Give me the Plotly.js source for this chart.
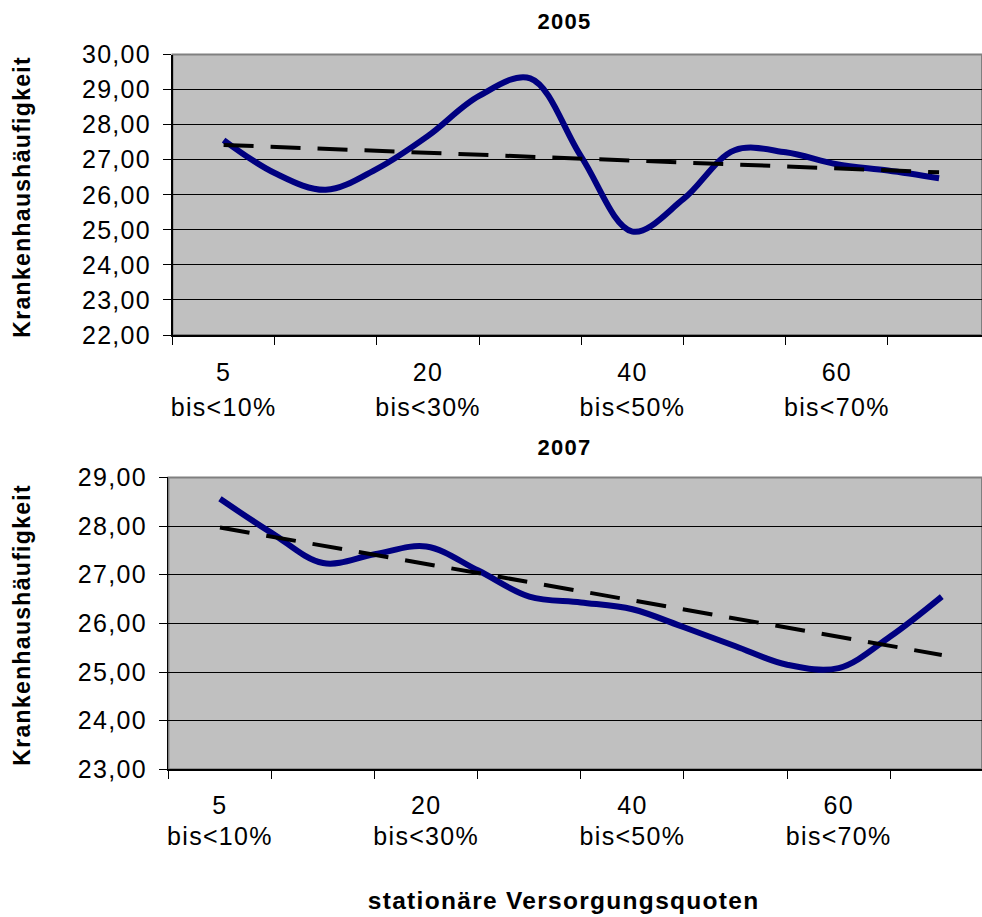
<!DOCTYPE html>
<html>
<head>
<meta charset="utf-8">
<script src="https://cdn.plot.ly/plotly-3.0.1.min.js"></script>
<style>
  html, body { margin: 0; padding: 0; background: #ffffff; overflow: hidden; }
  #chart text { letter-spacing: 1.3px; }
</style>
</head>
<body>
<div id="chart"></div>
<script>
// Krankenhaushäufigkeit nach stationärer Versorgungsquote, 2005 und 2007

// Position of each Versorgungsquoten-Klasse along the category axis
const klasse = [0, 1, 2, 3, 4, 5, 6, 7, 8, 9, 10, 11, 12, 13, 14];

// Krankenhaushäufigkeit per class
const haeufigkeit2005 = [27.56, 26.62, 26.14, 26.74, 27.68, 28.82, 29.32, 27.08,
                         24.95, 25.88, 27.27, 27.21, 26.87, 26.69, 26.47];
const haeufigkeit2007 = [28.56, 27.86, 27.24, 27.42, 27.58, 27.09, 26.55, 26.43,
                         26.29, 25.92, 25.53, 25.15, 25.08, 25.73, 26.55];

// Linear trend lines: value at the first and at the last class
const trendKlasse = [0, 14];
const trend2005 = [27.42, 26.64];
const trend2007 = [27.97, 25.35];

// Labelled classes (every fourth one carries a label)
const tickKlasse = [0, 4, 8, 12];
const tickUntergrenze = ['5', '20', '40', '60'];
const tickObergrenze = ['bis<10%', 'bis<30%', 'bis<50%', 'bis<70%'];

const FONT = '"Liberation Sans", Arial, Helvetica, sans-serif';
const W = 982, H = 917;

// plot-area pixel boxes -> paper domains
function xDom(left) { return [left / W, 1]; }
function yDom(top, bottom) { return [(H - bottom) / H, (H - top) / H]; }

const serieStyle = { color: '#000080', width: 6, shape: 'spline', smoothing: 1 };
const trendStyle = { color: '#000000', width: 4, dash: '30px,17px' };

const traces = [
  { x: klasse, y: haeufigkeit2005, xaxis: 'x', yaxis: 'y', mode: 'lines', line: serieStyle },
  { x: trendKlasse, y: trend2005, xaxis: 'x', yaxis: 'y', mode: 'lines', line: trendStyle },
  { x: klasse, y: haeufigkeit2007, xaxis: 'x2', yaxis: 'y2', mode: 'lines', line: serieStyle },
  { x: trendKlasse, y: trend2007, xaxis: 'x2', yaxis: 'y2', mode: 'lines', line: trendStyle },
  // empty traces so the overlaid label axes get drawn
  { x: [null], y: [null], xaxis: 'x3', yaxis: 'y', mode: 'lines', hoverinfo: 'skip' },
  { x: [null], y: [null], xaxis: 'x4', yaxis: 'y2', mode: 'lines', hoverinfo: 'skip' }
];

const TICKFONT = { family: FONT, size: 25, color: '#000000' };

function yAxis(dom, range, anchor) {
  return {
    domain: dom, range: range, anchor: anchor,
    tickmode: 'linear', tick0: 0, dtick: 1, tickformat: '.2f',
    showgrid: true, gridcolor: '#000000', gridwidth: 1,
    showline: true, linecolor: '#000000', linewidth: 1.5,
    ticks: 'outside', ticklen: 8, tickwidth: 1, tickcolor: '#000000',
    ticklabelstandoff: 7,
    tickfont: TICKFONT,
    zeroline: false, fixedrange: true, automargin: false
  };
}

function xAxis(dom, range, anchor, standoff) {
  return {
    domain: dom, range: range, anchor: anchor,
    tickmode: 'array', tickvals: tickKlasse, ticktext: tickUntergrenze,
    ticks: '', ticklabelstandoff: standoff,
    tickfont: TICKFONT,
    showgrid: false, zeroline: false,
    showline: true, linecolor: '#000000', linewidth: 1.5,
    minor: {
      tickmode: 'array', tickvals: [-1, 1, 3, 5, 7, 9, 11, 13],
      ticks: 'outside', ticklen: 8, tickwidth: 1, tickcolor: '#000000', showgrid: false
    },
    fixedrange: true, automargin: false
  };
}

// second label row (upper class bound) on an overlaid axis
function xAxisRow2(over, range, anchor, standoff) {
  return {
    overlaying: over, anchor: anchor, side: 'bottom', range: range,
    tickmode: 'array', tickvals: tickKlasse, ticktext: tickObergrenze,
    ticks: '', ticklabelstandoff: standoff,
    tickfont: TICKFONT,
    showgrid: false, zeroline: false, showline: false,
    fixedrange: true, automargin: false
  };
}

const r1 = [-1, 14.84], r2 = [-1, 14.78];

const plotBorder = (xr, yr) => ({
  type: 'rect', xref: xr + ' domain', yref: yr + ' domain',
  x0: 0, x1: 1, y0: 0, y1: 1, layer: 'below',
  line: { color: '#808080', width: 2 }
});

const layout = {
  width: W, height: H,
  margin: { l: 0, r: 0, t: 0, b: 0, pad: 0 },
  paper_bgcolor: '#ffffff', plot_bgcolor: '#c0c0c0',
  separators: ',.',
  showlegend: false,
  font: { family: FONT, color: '#000000' },
  xaxis: xAxis(xDom(172.5), r1, 'y', 14),
  yaxis: yAxis(yDom(54.5, 335), [22, 30], 'x'),
  xaxis2: xAxis(xDom(168.4), r2, 'y2', 13),
  yaxis2: yAxis(yDom(477.4, 769.3), [23, 29], 'x2'),
  xaxis3: xAxisRow2('x', r1, 'y', 55),
  xaxis4: xAxisRow2('x2', r2, 'y2', 50),
  shapes: [plotBorder('x', 'y'), plotBorder('x2', 'y2')],
  annotations: [
    { text: '<b>2005</b>', xref: 'paper', yref: 'paper', x: 564 / W, y: (H - 21) / H,
      xanchor: 'center', yanchor: 'middle', showarrow: false, font: { size: 22 } },
    { text: '<b>2007</b>', xref: 'paper', yref: 'paper', x: 564 / W, y: (H - 447) / H,
      xanchor: 'center', yanchor: 'middle', showarrow: false, font: { size: 22 } },
    { text: '<b>Krankenhaushäufigkeit</b>', xref: 'paper', yref: 'paper', x: 22 / W, y: (H - 197) / H,
      xanchor: 'center', yanchor: 'middle', textangle: -90, showarrow: false, font: { size: 23 } },
    { text: '<b>Krankenhaushäufigkeit</b>', xref: 'paper', yref: 'paper', x: 22 / W, y: (H - 625) / H,
      xanchor: 'center', yanchor: 'middle', textangle: -90, showarrow: false, font: { size: 23 } },
    { text: '<b>stationäre Versorgungsquoten</b>', xref: 'paper', yref: 'paper', x: 563 / W, y: (H - 900) / H,
      xanchor: 'center', yanchor: 'middle', showarrow: false, font: { size: 24.5 } }
  ]
};

Plotly.newPlot('chart', traces, layout, { staticPlot: true, displayModeBar: false });
</script>
</body>
</html>
